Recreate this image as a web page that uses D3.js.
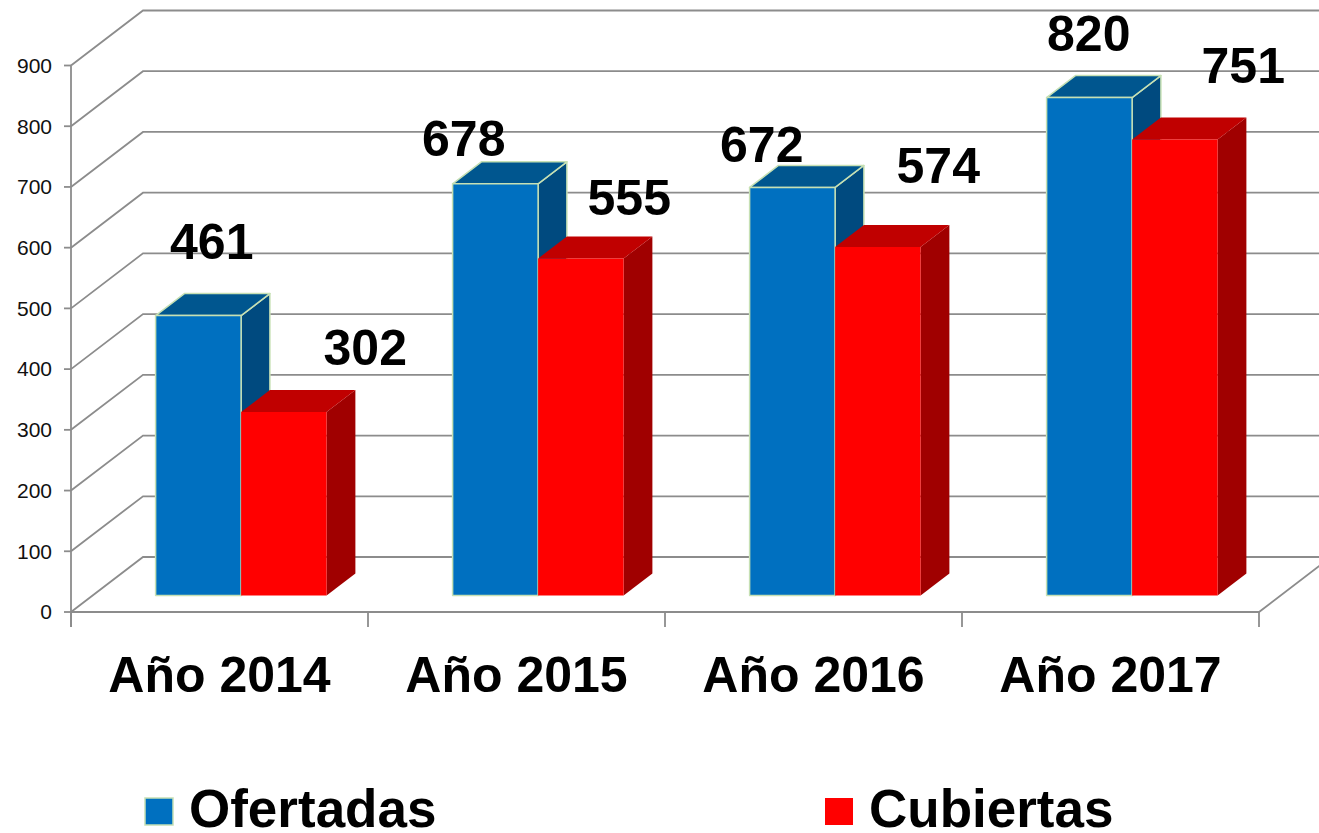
<!DOCTYPE html>
<html>
<head>
<meta charset="utf-8">
<script src="https://cdn.jsdelivr.net/npm/d3@7"></script>
<style>
  body { margin: 0; background: #fff; }
  svg { display: block; font-family: "Liberation Sans", Arial, sans-serif; }
</style>
</head>
<body>
<svg id="chart" width="1319" height="833"></svg>
<script>
// data
const years = ["Año 2014", "Año 2015", "Año 2016", "Año 2017"];
const seriesNames = ["Ofertadas", "Cubiertas"];
const ofertadas = [461, 678, 672, 820];
const cubiertas = [302, 555, 574, 751];
const yTicks = [0, 100, 200, 300, 400, 500, 600, 700, 800, 900];

// labels were dragged around by hand in the original, nudge them the same way
const labelNudge = {
    Ofertadas: [[-1, -46], [-46, -17], [-45, -14], [-15, -36]],
    Cubiertas: [[67, -36], [34, -32], [46, -53], [54, -45]]
};

const colors = {
    Ofertadas: { front: "#0070C0", top: "#00568F", side: "#004A7F", stroke: "#C6E0B4" },
    Cubiertas: { front: "#FF0000", top: "#C00000", side: "#A00000", stroke: "none" }
};

const svg = d3.select("#chart");

const left = 71, right = 1259;
const depthX = 72, depthY = 55;       // oblique offset of the back wall
const zFront = 0.3, zBack = 0.7;      // where the bars sit in depth

const yScale = d3.scaleLinear().domain([0, 900]).range([612, 65.5]);
const xScale = d3.scaleBand().domain(years).range([left, right]);
const xInner = d3.scaleBand().domain(seriesNames)
    .range([0, xScale.bandwidth()])
    .paddingInner(0)
    .paddingOuter(0.737);

const proj = (x, v, z) => [x + z * depthX, yScale(v) - z * depthY];
const poly = pts => "M" + pts.map(p => p.join(",")).join("L") + "Z";

const gridColor = "#8c8c8c";

// walls: gridlines on side wall and back wall
const grid = svg.append("g")
    .attr("fill", "none")
    .attr("stroke", gridColor)
    .attr("stroke-width", 1.8);

grid.selectAll("path").data(yTicks)
    .enter().append("path")
    .attr("d", d => {
        const a = proj(left, d, 0), b = proj(left, d, 1), c = proj(right, d, 1);
        return `M${a}L${b}L${c}`;
    });

// floor front edge + right edge
const y0 = yScale(0);
grid.append("path")
    .attr("d", `M${left},${y0}L${right},${y0}L${proj(right, 0, 1)}`);

// y axis line and ticks
grid.append("line")
    .attr("x1", left).attr("x2", left)
    .attr("y1", yScale(900)).attr("y2", y0 + 15);

grid.selectAll(".ytick").data(yTicks)
    .enter().append("line")
    .attr("class", "ytick")
    .attr("x1", left - 7).attr("x2", left)
    .attr("y1", d => yScale(d)).attr("y2", d => yScale(d));

const catEdges = years.map(d => xScale(d)).concat([right]);
grid.selectAll(".xtick").data(catEdges)
    .enter().append("line")
    .attr("class", "xtick")
    .attr("x1", d => d).attr("x2", d => d)
    .attr("y1", y0).attr("y2", y0 + 15);

svg.append("g").selectAll("text").data(yTicks)
    .enter().append("text")
    .attr("x", 52)
    .attr("y", d => yScale(d))
    .attr("dy", "0.35em")
    .attr("text-anchor", "end")
    .attr("font-size", 21)
    .attr("fill", "#111")
    .text(d => d);

// bars
const bars = [];
years.forEach((yr, i) => {
    seriesNames.forEach(s => {
        const v = s === "Ofertadas" ? ofertadas[i] : cubiertas[i];
        bars.push({ year: yr, series: s, value: v, index: i });
    });
});

const barG = svg.append("g");
bars.forEach(b => {
    const c = colors[b.series];
    const x0 = xScale(b.year) + xInner(b.series);
    const x1 = x0 + xInner.bandwidth();
    const g = barG.append("g")
        .attr("stroke", c.stroke)
        .attr("stroke-width", 1.5)
        .attr("stroke-linejoin", "round");

    g.append("path")
        .attr("fill", c.side)
        .attr("d", poly([proj(x1, b.value, zFront), proj(x1, b.value, zBack), proj(x1, 0, zBack), proj(x1, 0, zFront)]));
    g.append("path")
        .attr("fill", c.top)
        .attr("d", poly([proj(x0, b.value, zFront), proj(x1, b.value, zFront), proj(x1, b.value, zBack), proj(x0, b.value, zBack)]));
    g.append("path")
        .attr("fill", c.front)
        .attr("d", poly([proj(x0, b.value, zFront), proj(x1, b.value, zFront), proj(x1, 0, zFront), proj(x0, 0, zFront)]));
});

// value labels
svg.append("g").selectAll("text").data(bars)
    .enter().append("text")
    .attr("x", d => {
        const mid = xScale(d.year) + xInner(d.series) + xInner.bandwidth() / 2;
        return proj(mid, d.value, 0.5)[0] + labelNudge[d.series][d.index][0];
    })
    .attr("y", d => proj(0, d.value, 0.5)[1] + labelNudge[d.series][d.index][1])
    .attr("text-anchor", "middle")
    .attr("font-size", 50)
    .attr("font-weight", "bold")
    .attr("fill", "#000")
    .text(d => d.value);

// category labels
svg.append("g").selectAll("text").data(years)
    .enter().append("text")
    .attr("x", d => xScale(d) + xScale.bandwidth() / 2)
    .attr("y", 692)
    .attr("text-anchor", "middle")
    .attr("font-size", 50)
    .attr("font-weight", "bold")
    .attr("fill", "#000")
    .text(d => d);

// legend
const legendX = [145, 825];
const legend = svg.append("g").selectAll("g").data(seriesNames)
    .enter().append("g")
    .attr("transform", (d, i) => `translate(${legendX[i]},798)`);

legend.append("rect")
    .attr("width", 28).attr("height", 27)
    .attr("fill", d => colors[d].front)
    .attr("stroke", d => colors[d].stroke)
    .attr("stroke-width", 1.5);

legend.append("text")
    .attr("x", 44)
    .attr("y", 29)
    .attr("font-size", 53)
    .attr("font-weight", "bold")
    .attr("fill", "#000")
    .text(d => d);
</script>
</body>
</html>
